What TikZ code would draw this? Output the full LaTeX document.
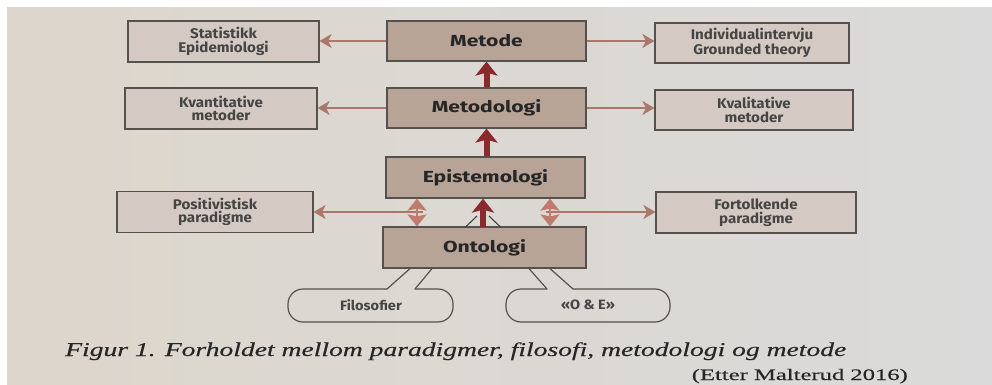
\documentclass[tikz,border=0pt]{standalone}
\usepackage{fontspec}
\usepackage{graphicx}
\newfontfamily\centerfont{Fira Sans}[FakeStretch=1.32]
\newfontfamily\sidefont{Fira Sans}[FakeStretch=1.08]
\newfontfamily\capfont{Liberation Serif}[FakeBold=0.35]
\usetikzlibrary{arrows.meta}
\definecolor{paperL}{HTML}{DDD6CC}
\definecolor{paperR}{HTML}{DADADA}
\definecolor{boxC}{HTML}{B8A496}
\definecolor{boxS}{HTML}{D4CAC3}
\definecolor{edgec}{HTML}{55514D}
\definecolor{thinc}{HTML}{A9786A}
\definecolor{thickc}{HTML}{8A2A2C}
\definecolor{dblc}{HTML}{BF7C6E}
\definecolor{inkc}{HTML}{262626}
\definecolor{sidetext}{HTML}{454545}
\tikzset{
  centerbox/.style={draw=edgec, line width=1.2pt, fill=boxC, minimum width=199pt, minimum height=40pt, inner sep=0pt,
    font=\centerfont\bfseries\fontsize{16}{18}\selectfont, text=inkc},
  sidebox/.style={draw=edgec, line width=1.2pt, fill=boxS, minimum height=41pt, inner sep=0pt, align=center,
    font=\sidefont\bfseries\fontsize{14}{13.5}\selectfont, text=sidetext},
  thinarrow/.style={draw=thinc, line width=1.6pt, -{Stealth[length=12pt,width=14pt,inset=3.5pt]}},
  thickarrow/.style={draw=thickc, line width=6pt, -{Stealth[length=14pt,width=22pt,inset=3pt]}},
  dblarrow/.style={draw=dblc, line width=2pt, {Stealth[length=12pt,width=19pt,inset=2pt]}-{Stealth[length=12pt,width=19pt,inset=2pt]}},
  callout/.style={draw=edgec, line width=1.2pt, line cap=round},
  callouttext/.style={inner sep=0pt, font=\sidefont\bfseries\fontsize{13.5}{14}\selectfont, text=sidetext},
  fanline/.style={draw=black!75, line width=1.1pt},
}
\begin{document}
\begin{tikzpicture}[x=1pt,y=-1pt]
\useasboundingbox (0,0) rectangle (992,385);
\fill[white] (0,0) rectangle (992,385);
\shade[left color=paperL, right color=paperR] (7,8) rectangle (992,385);

% central column
\node[centerbox] (metode) at (486.5,41) {Metode};
\node[centerbox] (metodologi) at (486.5,108) {Metodologi};
\node[centerbox, minimum height=41pt] (epist) at (485.5,177.5) {Epistemologi};
\node[centerbox, minimum width=203pt, minimum height=41pt] (onto) at (484.5,247.5) {Ontologi};

% side boxes
\node[sidebox, minimum width=191pt] (stat) at (223.5,41.5) {Statistikk\\Epidemiologi};
\node[sidebox, minimum width=192pt] (kvant) at (221,108.5) {Kvantitative\\metoder};
\node[sidebox, minimum width=196pt] (posit) at (215,212) {Positivistisk\\paradigme};
\node[sidebox, minimum width=194pt, minimum height=40pt] (indiv) at (752,43) {Individualintervju\\Grounded theory};
\node[sidebox, minimum width=198pt, minimum height=40pt] (kval) at (754,110) {Kvalitative\\metoder};
\node[sidebox, minimum width=200pt] (fort) at (756,212.5) {Fortolkende\\paradigme};

% thin arrows
\draw[thinarrow] (metode.west) -- (metode.west -| stat.east);
\draw[thinarrow] (metode.east) -- (metode.east -| indiv.west);
\draw[thinarrow] (metodologi.west) -- (metodologi.west -| kvant.east);
\draw[thinarrow] (metodologi.east) -- (metodologi.east -| kval.west);

% thick arrows
\draw[thickarrow] (metodologi.north) -- (metode.south);
\draw[thickarrow] (epist.north -| metodologi.south) -- (metodologi.south);
\draw[fanline] (477,216) -- (465,227.5);
\draw[fanline] (489,216) -- (501,227.5);
\coordinate (oup) at (483,227);
\draw[thickarrow] (oup) -- (oup |- epist.south);

% paradigm arrows with double arrows
\coordinate (dl) at (417,212);
\coordinate (dr) at (550,212);
\coordinate (dlend) at (423,212);
\coordinate (drend) at (546,212);
\draw[thinarrow] (dlend) -- (dlend -| posit.east);
\draw[thinarrow] (drend) -- (drend -| fort.west);
\draw[dblarrow] (dl |- onto.north) -- (dl |- epist.south);
\draw[dblarrow] (dr |- onto.north) -- (dr |- epist.south);

% callouts
\node[callouttext] (filo) at (371,305) {Filosofier};
\draw[callout, rounded corners=15pt] (387,289) -- (288,289) -- (288,322) -- (453,322) -- (453,289) -- (415,289);
\draw[callout] (387,289) -- (410,268.6);
\draw[callout] (415,289) -- (432,268.6);

\node[callouttext] (oe) at (588,305) {«O \& E»};
\draw[callout, rounded corners=15pt] (547,289) -- (506,289) -- (506,322) -- (670,322) -- (670,289) -- (573,289);
\draw[callout] (547,289) -- (529,268.6);
\draw[callout] (573,289) -- (550,268.6);

% caption
\node[anchor=base west, inner sep=0pt, text=inkc] (cap) at (65,356)
  {\resizebox{781pt}{\height}{\capfont\itshape\fontsize{19.5}{21}\selectfont Figur 1. Forholdet mellom paradigmer, filosofi, metodologi og metode}};
\node[anchor=base east, inner sep=0pt, text=inkc] (cite) at (908,380)
  {\resizebox{216pt}{\height}{\capfont\fontsize{16}{18}\selectfont (Etter Malterud 2016)}};
\end{tikzpicture}
\end{document}
